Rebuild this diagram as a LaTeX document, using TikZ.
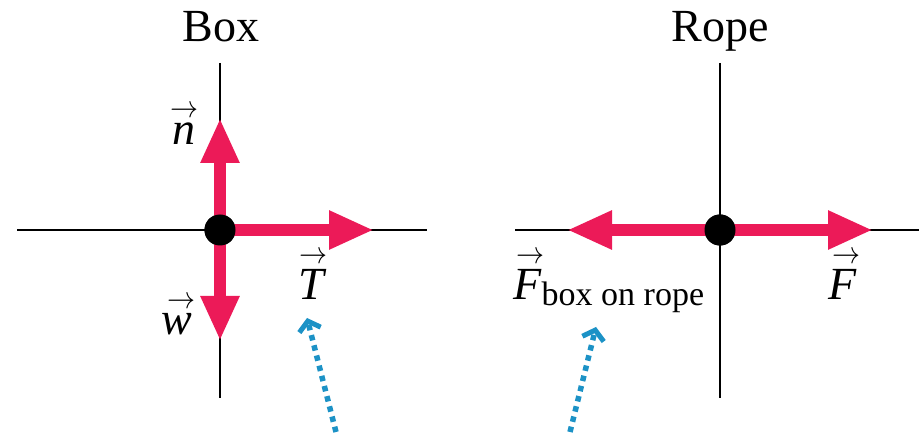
\documentclass[tikz,border=0pt]{standalone}
\usepackage{fontspec}
\usepackage{graphicx}
\setmainfont{Liberation Serif}
\usetikzlibrary{arrows.meta}
\definecolor{forcered}{RGB}{236,26,88}
\definecolor{hintblue}{RGB}{28,146,198}
\newlength{\vlen}
% #1 raise of arrow, #2 horizontal shift of arrow, #3 letter
\newcommand{\fvec}[3]{%
  \settowidth{\vlen}{\itshape #3}%
  \rlap{\hspace*{#2}\makebox[\vlen][c]{\raisebox{#1}{\scalebox{1.35}[1.5]{\fontsize{20}{20}\selectfont$\rightarrow$}}}}%
  \textit{#3}}
\tikzset{
  axis/.style={line width=2.5pt, black},
  force/.style={line width=12pt, forcered, -{Triangle[length=45pt,width=36pt]}},
  dotnode/.style={circle, fill=black, minimum size=31pt, inner sep=0pt},
  lab/.style={font=\fontsize{46}{52}\selectfont, anchor=base, inner sep=0pt},
  hint/.style={line width=5.5pt, hintblue, dash pattern=on 5.5pt off 5pt,
    -{Straight Barb[length=9pt,width=22pt,line width=5pt]}}
}
\begin{document}
\begin{tikzpicture}[x=1pt,y=-1pt]
\useasboundingbox (0,0) rectangle (919,438);
% ---- Box diagram ----
\coordinate (bT) at (220,63);
\coordinate (bB) at (220,398);
\coordinate (bL) at (17,230);
\coordinate (bR) at (427,230);
\draw[axis] (bT) -- (bB);
\draw[axis] (bL) -- (bR);
\node[dotnode] (bdot) at (220,230) {};
\coordinate (ntip) at (220,118);
\coordinate (wtip) at (220,341);
\coordinate (Ttip) at (374,230);
\draw[force] (bdot.center) -- (ntip);
\draw[force] (bdot.center) -- (wtip);
\draw[force] (bdot.center) -- (Ttip);
\node[dotnode] (bdot2) at (220,230) {};
\node[lab] (boxtitle) at (221,42) {Box};
\node[lab] (nlab) at (183.5,145) {\fvec{27pt}{1pt}{n}};
\node[lab] (wlab) at (176.5,335) {\fvec{26pt}{5pt}{w}};
\node[lab] (Tlab) at (312.5,300) {\fvec{36pt}{2pt}{T}};
% ---- Rope diagram ----
\coordinate (rT) at (720,63);
\coordinate (rB) at (720,398);
\coordinate (rL) at (515,230);
\coordinate (rR) at (919,230);
\draw[axis] (rT) -- (rB);
\draw[axis] (rL) -- (rR);
\node[dotnode] (rdot) at (720,230) {};
\coordinate (Fltip) at (567,230);
\coordinate (Frtip) at (873,230);
\draw[force] (rdot.center) -- (Fltip);
\draw[force] (rdot.center) -- (Frtip);
\node[dotnode] (rdot2) at (720,230) {};
\node[lab] (ropetitle) at (720,42) {Rope};
\node[lab] (Frlab) at (843,300) {\fvec{36pt}{4pt}{F}};
\node[lab, anchor=base west] (Fblab) at (513,300) {\fvec{36pt}{3pt}{F}\raisebox{-6pt}{\fontsize{34}{36}\selectfont box on rope}};
% ---- hint arrows ----
\coordinate (h1s) at (336,432);
\coordinate (h1e) at (307,318);
\coordinate (h2s) at (570,432);
\coordinate (h2e) at (596,327);
\draw[hint] (h1s) -- (h1e);
\draw[hint] (h2s) -- (h2e);
\end{tikzpicture}
\end{document}
